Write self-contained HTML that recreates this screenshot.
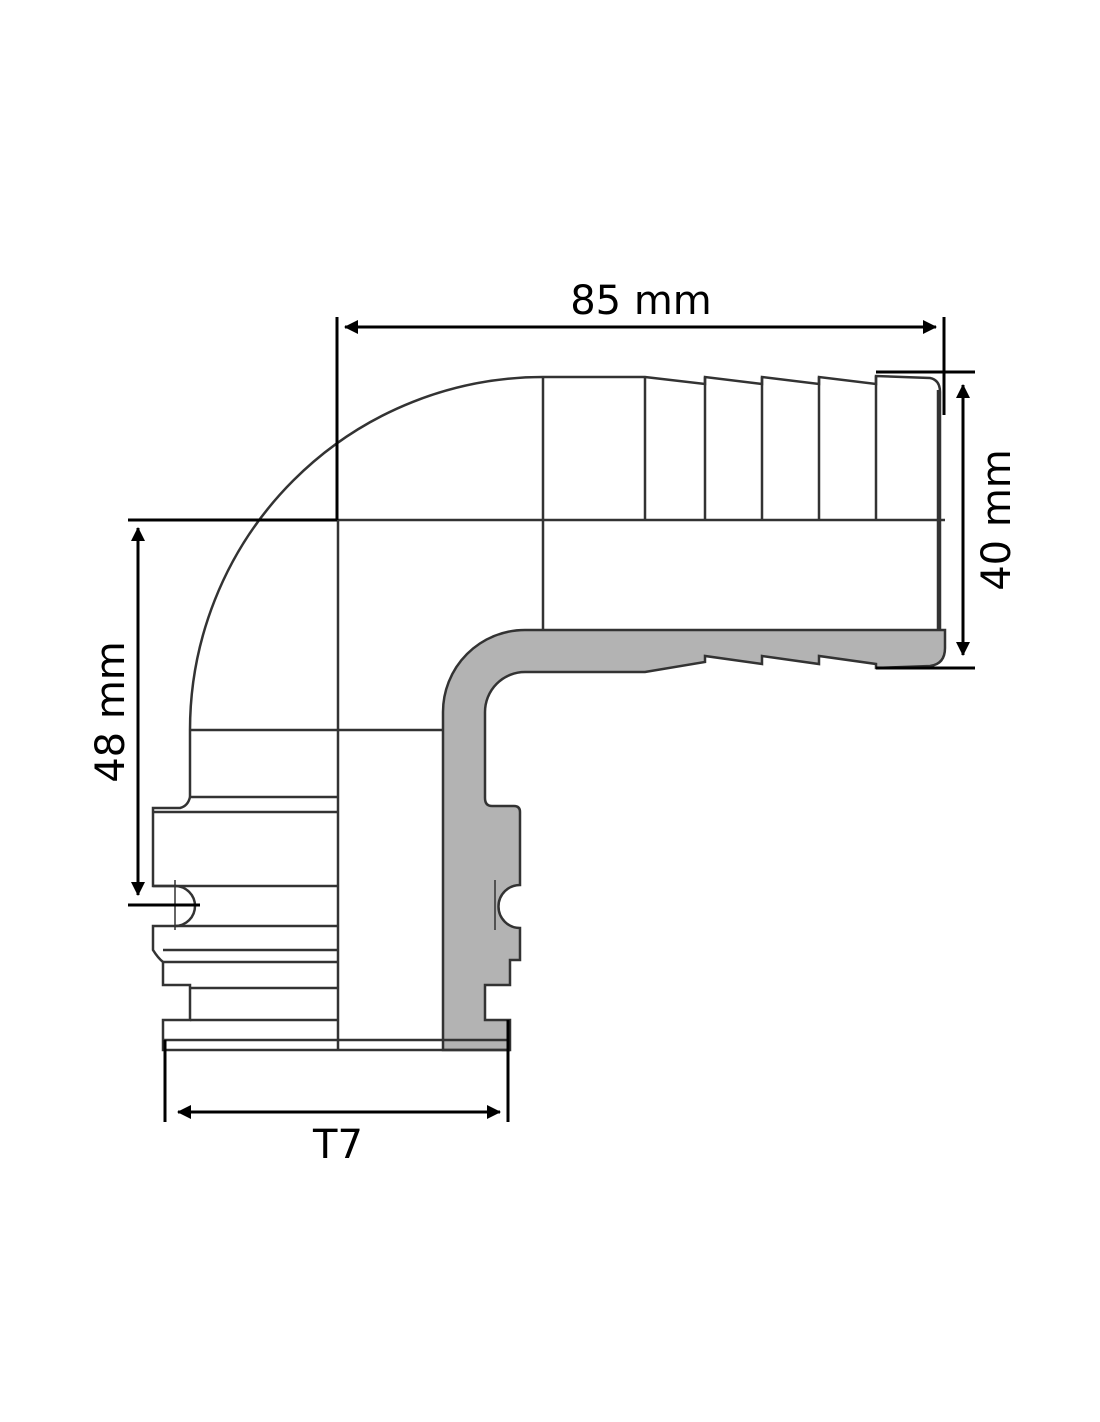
<!DOCTYPE html>
<html><head><style>body{margin:0;background:#fff}svg{display:block}</style></head>
<body>
<svg width="1100" height="1422" viewBox="0 0 1100 1422" xmlns="http://www.w3.org/2000/svg">
<defs>
<marker id="a" markerWidth="16" markerHeight="16" refX="13" refY="7" orient="auto-start-reverse" markerUnits="userSpaceOnUse">
<path d="M0,0 L14,7 L0,14 Z" fill="#000"/></marker>
</defs>
<g fill="none" stroke="#333" stroke-width="2.5">
<path fill="#b3b3b3" d="M945,630 L525,630 A82,82 0 0 0 443,712 L443,1050 L510,1050 L510,1020 L485,1020 L485,985 L510,985 L510,960 L520,960 L520,928 A20,20 0 0 1 520,885 L520,812 Q520,806 514,806 L492,806 Q485,806 485,798 L485,712 A40,40 0 0 1 525,672 L645,672 L705,662 L705,656 L762,664 L762,656 L819,664 L819,656 L876,664 L876,668 L930,666 Q945,664 945,648 Z"/>
<path d="M190,797 L190,730 A353,353 0 0 1 543,377 L645,377 L705,384 L705,377 L762,384 L762,377 L819,384 L819,377 L876,384 L876,376 L930,378 Q940,380 940,392 L940,630"/>
<path d="M645,377 L645,520 M705,377 L705,520 M762,377 L762,520 M819,377 L819,520 M876,376 L876,520 M543,377 L543,630 M938,390 L938,630"/>
<path d="M338,520 L945,520 M338,520 L338,1050 M190,730 L443,730 M190,797 L338,797"/>
<path d="M190,797 Q188,806 180,808 L153,808 L153,886 L175,886 A20,20 0 0 1 175,926 L153,926 L153,950 Q158,958 163,962 L163,985 L190,985 L190,1020 L163,1020 L163,1050 L510,1050"/>
<path d="M153,812 L338,812 M153,886 L338,886 M175,926 L338,926 M163,950 L338,950 M163,962 L338,962 M190,988 L338,988 M190,1020 L338,1020 M163,1040 L510,1040"/>
<path d="M175,880 L175,930 M495,880 L495,930" stroke-width="1.5"/>
</g>
<g stroke="#000" stroke-width="3" fill="none">
<line x1="337" y1="317" x2="337" y2="520"/>
<line x1="128" y1="520" x2="337" y2="520"/>
<line x1="944" y1="317" x2="944" y2="415"/>
<line x1="345" y1="327" x2="936" y2="327" marker-start="url(#a)" marker-end="url(#a)"/>
<line x1="876" y1="372" x2="975" y2="372"/>
<line x1="876" y1="668" x2="975" y2="668"/>
<line x1="963" y1="385" x2="963" y2="655" marker-start="url(#a)" marker-end="url(#a)"/>
<line x1="138" y1="528" x2="138" y2="895" marker-start="url(#a)" marker-end="url(#a)"/>
<line x1="128" y1="905" x2="200" y2="905"/>
<line x1="165" y1="1040" x2="165" y2="1122"/>
<line x1="508" y1="1020" x2="508" y2="1122"/>
<line x1="178" y1="1112" x2="500" y2="1112" marker-start="url(#a)" marker-end="url(#a)"/>
</g>
<g font-family="'DejaVu Sans','Liberation Sans',sans-serif" font-size="40" fill="#000" text-anchor="middle">
<text x="641" y="314">85 mm</text>
<text x="338" y="1158">T7</text>
<text transform="translate(1010,520) rotate(-90)">40 mm</text>
<text transform="translate(124,712) rotate(-90)">48 mm</text>
</g>
</svg>
</body></html>
